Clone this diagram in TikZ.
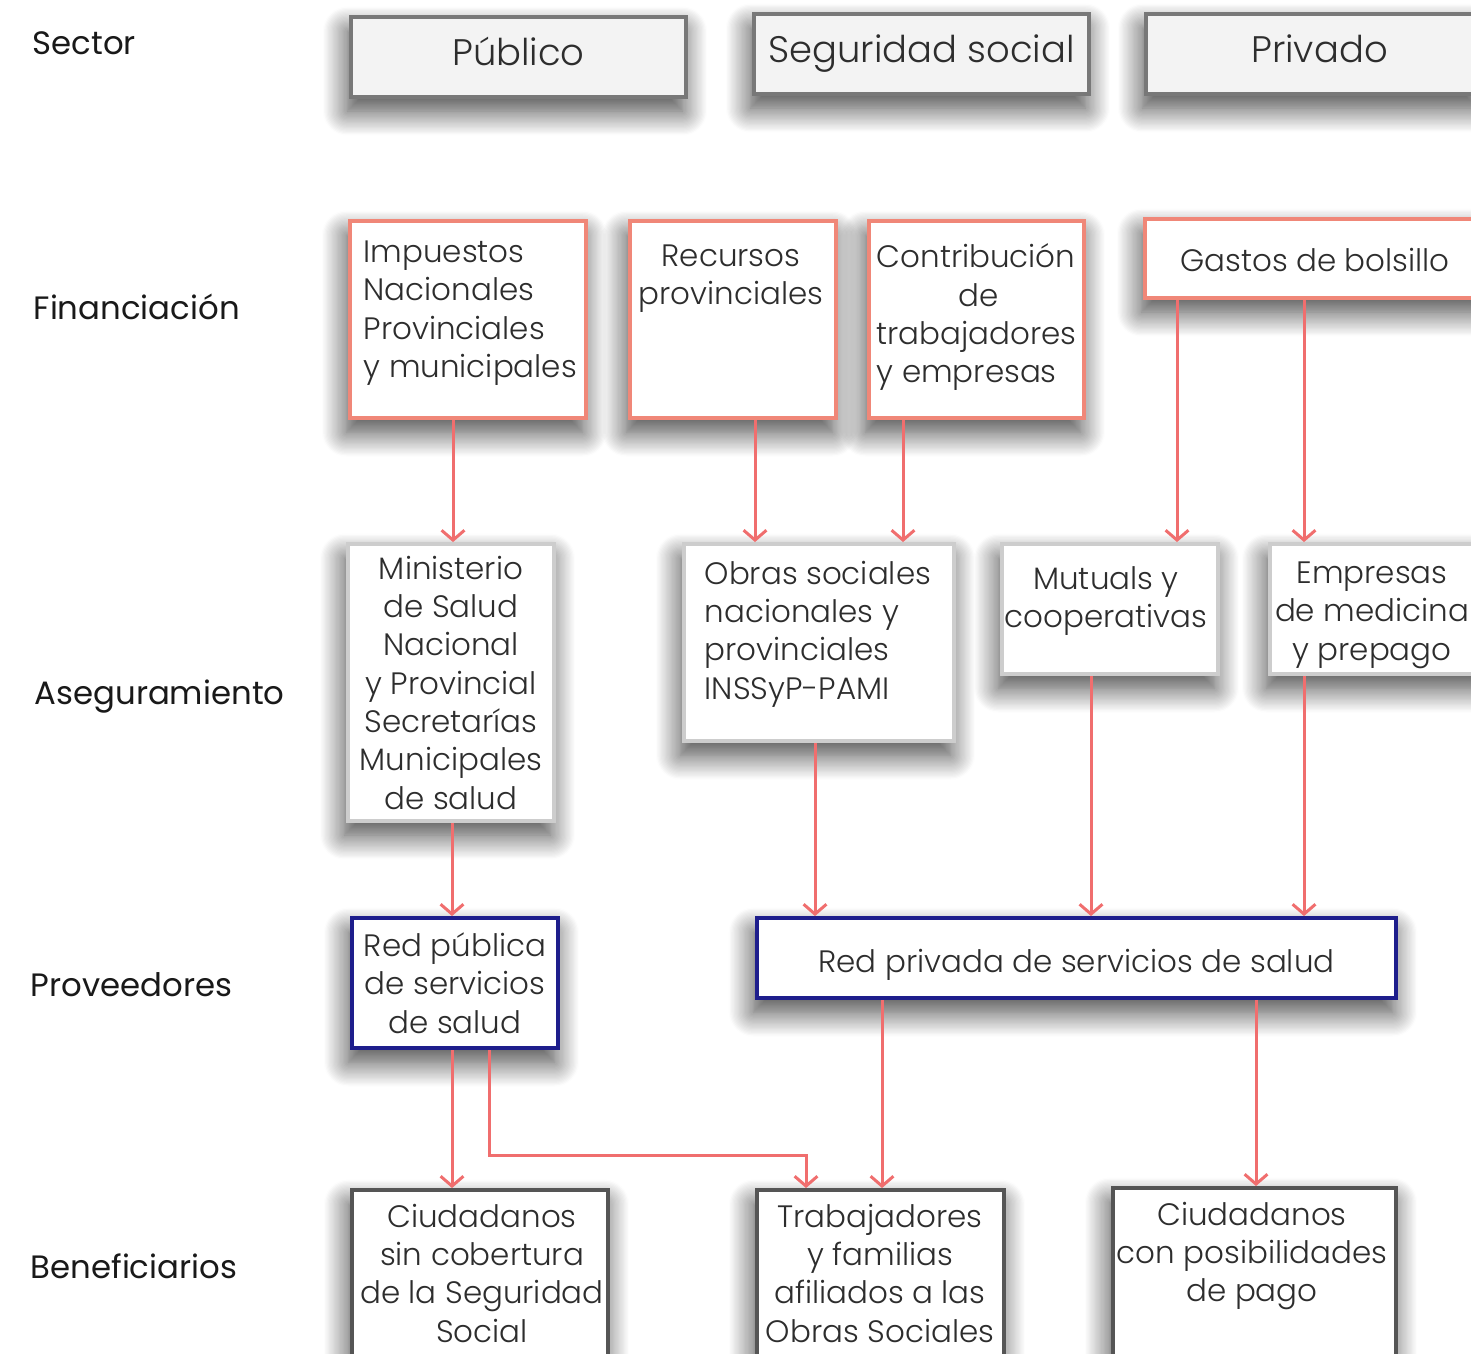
\documentclass[tikz,border=0pt]{standalone}
\usepackage{fontspec}
\setmainfont{Poppins}
\newfontfamily\thinfont{Poppins Light}
\usetikzlibrary{arrows.meta,shadows.blur}

\definecolor{txtc}{RGB}{45,45,45}
\definecolor{rowc}{RGB}{25,25,25}
\definecolor{shadc}{RGB}{55,68,95}
\definecolor{hdrdraw}{RGB}{120,120,120}
\definecolor{hdrfill}{RGB}{243,243,243}
\definecolor{findraw}{RGB}{240,135,120}
\definecolor{asedraw}{RGB}{205,205,205}
\definecolor{provdraw}{RGB}{30,30,140}
\definecolor{bendraw}{RGB}{85,85,85}
\definecolor{arrc}{RGB}{240,110,110}

\tikzset{
  shad/.style={blur shadow={shadow xshift=-1pt, shadow yshift=-4pt, shadow blur radius=7pt, shadow blur steps=20, shadow opacity=75, fill=shadc}},
  row/.style={anchor=base west, inner sep=0pt, text=rowc, font=\fontsize{9.2}{11}\selectfont},
  boxtext/.style={text=txtc, font=\thinfont\fontsize{8.8}{10.9}\selectfont, align=center},
  txt/.style={boxtext, inner sep=0pt},
  hdr/.style={shad, draw=hdrdraw, fill=hdrfill, line width=1.3pt, minimum width=3.35cm, minimum height=0.8cm, text height=7.4pt, text depth=2.8pt, text=txtc, font=\thinfont\fontsize{10.5}{12}\selectfont},
  fin/.style={shad, boxtext, draw=findraw, fill=white, line width=1.1pt},
  ase/.style={shad, boxtext, draw=asedraw, fill=white, line width=1.1pt},
  prov/.style={shad, boxtext, draw=provdraw, fill=white, line width=1.1pt},
  ben/.style={shad, boxtext, draw=bendraw, fill=white, line width=1.1pt},
  arr/.style={draw=arrc, line width=0.85pt, -{Straight Barb[length=2.8pt,width=6.5pt]}}
}

\begin{document}
\begin{tikzpicture}[x=0.01cm,y=-0.01cm]
  \useasboundingbox (0,0) rectangle (1471,1353);
  \clip (0,0) rectangle (1471,1353);

  % row labels
  \node[row] (lsec) at (32,54) {Sector};
  \node[row] (lfin) at (33,319) {Financiación};
  \node[row] (lase) at (34,704) {Aseguramiento};
  \node[row] (lpro) at (30,996) {Proveedores};
  \node[row] (lben) at (30,1278) {Beneficiarios};

  % sector
  \node[hdr] (pub) at (518.5,57) {Público};
  \node[hdr] (seg) at (921.5,54) {Seguridad social};
  \node[hdr] (pri) at (1313.5,54) {\hspace*{0.12cm}Privado};

  % financiacion
  \node[fin, minimum width=2.36cm, minimum height=1.97cm] (imp) at (468,319.5) {};
  \node[txt, anchor=north west, align=left] (impt) at (363,240) {Impuestos\\Nacionales\\Provinciales\\y municipales};
  \node[fin, minimum width=2.06cm, minimum height=1.97cm] (rec) at (733,319.5) {};
  \node[txt, anchor=north] (rect) at (731,244) {Recursos\\provinciales};
  \node[fin, minimum width=2.15cm, minimum height=1.97cm] (con) at (976.5,319.5) {};
  \node[txt, anchor=north west, align=left] (cont) at (876,243) {Contribución\\\hspace*{0.82cm}de\\trabajadores\\y empresas};
  \node[fin, minimum width=3.40cm, minimum height=0.79cm, text height=7.6pt, text depth=0pt] (gas) at (1315,258.5) {Gastos de bolsillo};

  % aseguramiento
  \node[ase, minimum width=2.06cm, minimum height=2.75cm] (min) at (451,682.5) {Ministerio\\de Salud\\Nacional\\y Provincial\\Secretarías\\Municipales\\de salud};
  \node[ase, minimum width=2.70cm, minimum height=1.97cm] (obr) at (819,642.5) {};
  \node[txt, anchor=north west, align=left] (obrt) at (704,560) {Obras sociales\\nacionales y\\provinciales\\INSSyP-PAMI};
  \node[ase, minimum width=2.16cm, minimum height=1.30cm] (mut) at (1110,609) {};
  \node[txt, anchor=north] (mutt) at (1106,566) {Mutuals y\\cooperativas};
  \node[ase, minimum width=2.16cm, minimum height=1.30cm] (emp) at (1378,609) {};
  \node[txt, anchor=north] (empt) at (1372,561) {Empresas\\de medicina\\y prepago};

  % proveedores
  \node[prov, minimum width=2.06cm, minimum height=1.30cm] (rpu) at (455,983) {Red pública\\de servicios\\de salud};
  \node[prov, minimum width=6.39cm, minimum height=0.80cm, text height=8.4pt, text depth=0pt] (rpr) at (1076.5,958) {Red privada de servicios de salud};

  % beneficiarios
  \node[ben, minimum width=2.56cm, minimum height=1.97cm] (csc) at (480,1288.5) {};
  \node[txt, anchor=north] (csct) at (482,1203) {Ciudadanos\\sin cobertura\\de la Seguridad\\Social};
  \node[ben, minimum width=2.47cm, minimum height=1.97cm] (tra) at (880.5,1288.5) {};
  \node[txt, anchor=north] (trat) at (880,1203) {Trabajadores\\y familias\\afiliados a las\\Obras Sociales};
  \node[ben, minimum width=2.83cm, minimum height=1.97cm] (ccp) at (1254.5,1286.5) {};
  \node[txt, anchor=north] (ccpt) at (1252,1201) {Ciudadanos\\con posibilidades\\de pago};

  % flujos
  \draw[arr] (453,0 |- imp.south) -- (453,0 |- min.north);
  \draw[arr] (755,0 |- rec.south) -- (755,0 |- obr.north);
  \draw[arr] (903,0 |- con.south) -- (903,0 |- obr.north);
  \draw[arr] (1177,0 |- gas.south) -- (1177,0 |- mut.north);
  \draw[arr] (1304,0 |- gas.south) -- (1304,0 |- emp.north);

  \draw[arr] (452,0 |- min.south) -- (452,0 |- rpu.north);
  \draw[arr] (815,0 |- obr.south) -- (815,0 |- rpr.north);
  \draw[arr] (1091,0 |- mut.south) -- (1091,0 |- rpr.north);
  \draw[arr] (1304,0 |- emp.south) -- (1304,0 |- rpr.north);

  \draw[arr] (452,0 |- rpu.south) -- (452,0 |- csc.north);
  \draw[arr] (489,0 |- rpu.south) |- (806,1155) -- (806,0 |- tra.north);
  \draw[arr] (882,0 |- rpr.south) -- (882,0 |- tra.north);
  \draw[arr] (1256,0 |- rpr.south) -- (1256,0 |- ccp.north);
\end{tikzpicture}
\end{document}
